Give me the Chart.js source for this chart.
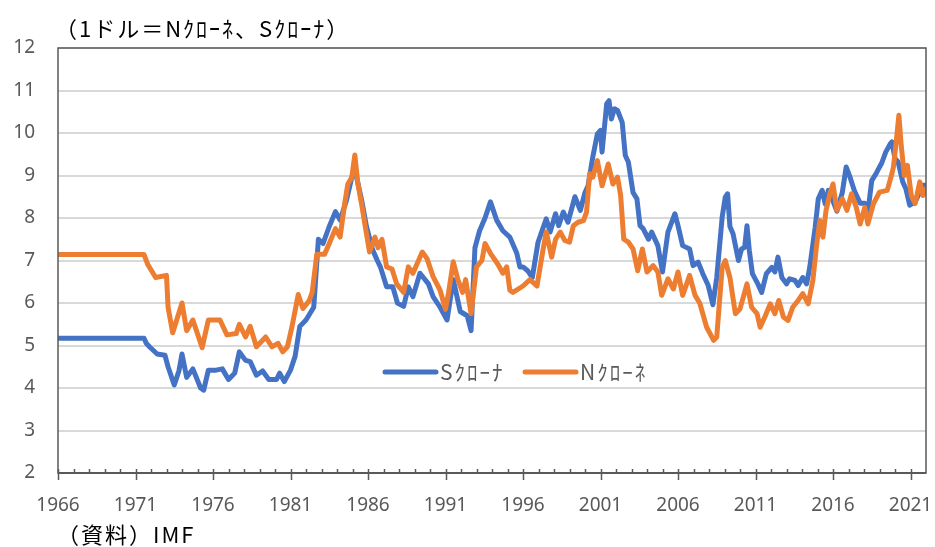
<!DOCTYPE html>
<html lang="ja">
<head>
<meta charset="utf-8">
<script src="https://cdn.jsdelivr.net/npm/chart.js@4.4.1/dist/chart.umd.min.js"></script>
<style>
    html, body { margin: 0; padding: 0; background: #fff; }
</style>
</head>
<body>
<canvas id="myChart" width="935" height="547"></canvas>
<script>
// 系列名
const seriesNames = ['Sｸﾛｰﾅ', 'Nｸﾛｰﾈ'];
const seriesColors = ['#4472C4', '#ED7D31'];

// Sクローナ（1ドルあたり）
const sYears = [
    1966.0, 1971.55, 1971.7, 1971.9, 1972.4, 1972.9, 1973.1, 1973.5, 1973.8, 1974.0,
    1974.3, 1974.7, 1975.2, 1975.4, 1975.7, 1976.2, 1976.6, 1977.0, 1977.4, 1977.7,
    1978.1, 1978.4, 1978.8, 1979.2, 1979.6, 1980.1, 1980.3, 1980.6, 1981.0, 1981.3,
    1981.6, 1982.0, 1982.5, 1982.8, 1983.1, 1983.5, 1983.9, 1984.2, 1984.6, 1984.95,
    1985.15, 1985.6, 1985.9, 1986.3, 1986.6, 1986.8, 1987.2, 1987.6, 1987.9, 1988.3,
    1988.6, 1988.9, 1989.35, 1989.9, 1990.2, 1990.65, 1991.1, 1991.5, 1991.95, 1992.4,
    1992.65, 1992.9, 1993.2, 1993.55, 1993.9, 1994.3, 1994.7, 1995.15, 1995.6, 1995.8,
    1996.0, 1996.3, 1996.6, 1996.97, 1997.2, 1997.5, 1997.75, 1998.1, 1998.3, 1998.6,
    1998.9, 1999.35, 1999.7, 2000.0, 2000.2, 2000.5, 2000.8, 2001.0, 2001.1, 2001.4,
    2001.55, 2001.7, 2001.9, 2002.1, 2002.4, 2002.6, 2002.8, 2003.1, 2003.35, 2003.55,
    2003.75, 2004.1, 2004.3, 2004.7, 2005.0, 2005.35, 2005.8, 2006.0, 2006.3, 2006.75,
    2006.97, 2007.3, 2007.6, 2007.95, 2008.25, 2008.5, 2008.85, 2009.05, 2009.2, 2009.35,
    2009.55, 2009.9, 2010.1, 2010.3, 2010.45, 2010.6, 2010.8, 2011.15, 2011.4, 2011.7,
    2012.05, 2012.25, 2012.45, 2012.7, 2013.0, 2013.2, 2013.55, 2013.75, 2014.05, 2014.3,
    2014.5, 2014.85, 2015.05, 2015.3, 2015.5, 2015.7, 2016.0, 2016.25, 2016.6, 2016.85,
    2017.1, 2017.4, 2017.75, 2018.05, 2018.25, 2018.5, 2018.8, 2019.15, 2019.4, 2019.7,
    2019.8, 2020.0, 2020.2, 2020.5, 2020.7, 2020.95, 2021.3, 2021.6, 2021.8, 2022.0
];
const sValues = [
    5.17, 5.17, 5.05, 4.97, 4.80, 4.77, 4.50, 4.07, 4.40, 4.80,
    4.25, 4.45, 4.00, 3.95, 4.42, 4.42, 4.45, 4.20, 4.35, 4.85,
    4.65, 4.62, 4.30, 4.40, 4.20, 4.20, 4.35, 4.15, 4.42, 4.75,
    5.45, 5.60, 5.90, 7.50, 7.40, 7.80, 8.15, 7.95, 8.40, 8.95,
    9.15, 8.40, 7.80, 7.25, 7.00, 6.85, 6.38, 6.38, 6.00, 5.92,
    6.38, 6.15, 6.70, 6.45, 6.15, 5.90, 5.60, 6.55, 5.80, 5.70,
    5.35, 7.30, 7.70, 8.00, 8.38, 7.95, 7.70, 7.55, 7.17, 6.85,
    6.85, 6.76, 6.60, 7.43, 7.67, 7.98, 7.67, 8.10, 7.82, 8.14,
    7.90, 8.50, 8.18, 8.60, 8.76, 9.43, 9.98, 10.06, 9.55, 10.69,
    10.76, 10.33, 10.57, 10.53, 10.25, 9.47, 9.31, 8.60, 8.45, 7.82,
    7.75, 7.50, 7.67, 7.35, 6.73, 7.67, 8.10, 7.82, 7.35, 7.27,
    6.88, 6.96, 6.69, 6.41, 5.96, 6.60, 8.02, 8.49, 8.57, 7.80,
    7.63, 7.00, 7.27, 7.31, 7.82, 7.24, 6.69, 6.45, 6.25, 6.69,
    6.84, 6.73, 7.08, 6.60, 6.45, 6.57, 6.53, 6.41, 6.60, 6.45,
    6.84, 7.78, 8.45, 8.65, 8.33, 8.65, 8.40, 8.16, 8.60, 9.20,
    8.96, 8.62, 8.35, 8.35, 8.14, 8.88, 9.06, 9.30, 9.55, 9.75,
    9.79, 9.40, 9.32, 8.85, 8.69, 8.30, 8.38, 8.61, 8.77, 8.77
];

// Nクローネ（1ドルあたり）
const nYears = [
    1966.0, 1971.55, 1971.8, 1972.3, 1973.0, 1973.1, 1973.4, 1974.0, 1974.3, 1974.7,
    1975.3, 1975.7, 1976.45, 1976.9, 1977.5, 1977.7, 1978.1, 1978.4, 1978.8, 1979.4,
    1979.8, 1980.2, 1980.5, 1980.8, 1981.1, 1981.5, 1981.8, 1982.2, 1982.4, 1982.7,
    1983.2, 1983.5, 1983.9, 1984.2, 1984.5, 1984.7, 1984.95, 1985.15, 1985.35, 1985.6,
    1985.8, 1986.1, 1986.45, 1986.65, 1986.9, 1987.2, 1987.55, 1987.85, 1988.3, 1988.6,
    1988.9, 1989.5, 1989.8, 1990.2, 1990.65, 1991.0, 1991.2, 1991.5, 1991.8, 1992.1,
    1992.3, 1992.65, 1993.0, 1993.35, 1993.55, 1993.9, 1994.4, 1994.7, 1994.95, 1995.15,
    1995.35, 1996.0, 1996.45, 1996.9, 1997.3, 1997.5, 1997.85, 1998.1, 1998.4, 1998.7,
    1999.0, 1999.25, 1999.55, 1999.9, 2000.1, 2000.3, 2000.5, 2000.8, 2001.1, 2001.5,
    2001.8, 2002.1, 2002.3, 2002.5, 2002.8, 2003.1, 2003.4, 2003.7, 2004.0, 2004.4,
    2004.7, 2004.95, 2005.35, 2005.7, 2006.0, 2006.3, 2006.75, 2007.1, 2007.4, 2007.85,
    2008.3, 2008.5, 2008.85, 2009.05, 2009.35, 2009.7, 2010.0, 2010.45, 2010.75, 2011.1,
    2011.3, 2011.6, 2011.95, 2012.25, 2012.5, 2012.8, 2013.1, 2013.4, 2013.75, 2014.05,
    2014.4, 2014.7, 2014.95, 2015.15, 2015.35, 2015.55, 2015.8, 2016.0, 2016.25, 2016.6,
    2016.9, 2017.2, 2017.5, 2017.75, 2018.05, 2018.25, 2018.6, 2019.0, 2019.5, 2019.8,
    2019.9, 2020.1, 2020.25, 2020.4, 2020.6, 2020.8, 2021.05, 2021.3, 2021.6, 2021.8,
    2022.0
];
const nValues = [
    7.14, 7.14, 6.90, 6.60, 6.65, 5.90, 5.30, 6.00, 5.35, 5.60,
    4.95, 5.60, 5.60, 5.25, 5.28, 5.50, 5.20, 5.45, 4.97, 5.20,
    4.97, 5.05, 4.85, 4.97, 5.45, 6.20, 5.87, 6.05, 6.25, 7.15,
    7.15, 7.40, 7.75, 7.55, 8.35, 8.80, 8.95, 9.48, 8.80, 8.30,
    7.85, 7.20, 7.55, 7.30, 7.50, 6.85, 6.80, 6.45, 6.25, 6.85,
    6.70, 7.20, 7.05, 6.62, 6.30, 5.85, 6.25, 6.97, 6.55, 6.25,
    6.55, 5.75, 6.85, 7.00, 7.40, 7.17, 6.90, 6.70, 6.85, 6.30,
    6.25, 6.40, 6.55, 6.40, 7.27, 7.67, 7.08, 7.50, 7.67, 7.47,
    7.43, 7.82, 7.90, 7.94, 8.14, 9.04, 8.96, 9.35, 8.76, 9.27,
    8.80, 8.96, 8.53, 7.50, 7.43, 7.27, 6.76, 7.27, 6.73, 6.88,
    6.73, 6.18, 6.57, 6.33, 6.73, 6.18, 6.65, 6.18, 6.00, 5.43,
    5.12, 5.20, 6.84, 7.00, 6.60, 5.75, 5.86, 6.45, 5.90, 5.75,
    5.43, 5.67, 5.98, 5.75, 6.06, 5.67, 5.59, 5.90, 6.06, 6.22,
    5.98, 6.53, 7.39, 7.94, 7.55, 8.18, 8.57, 8.80, 8.18, 8.45,
    8.18, 8.57, 8.25, 7.86, 8.25, 7.86, 8.33, 8.61, 8.65, 9.04,
    9.20, 9.87, 10.42, 9.71, 9.00, 9.24, 8.53, 8.34, 8.85, 8.53,
    8.69
];

// 軸
const yTicks = [2, 3, 4, 5, 6, 7, 8, 9, 10, 11, 12];
const xTicks = [1966, 1971, 1976, 1981, 1986, 1991, 1996, 2001, 2006, 2011, 2016, 2021];
const xFirstYear = 1966;
const xLastYear = 2022;

const titleText = '（1ドル＝Nｸﾛｰﾈ、Sｸﾛｰﾅ）';
const sourceText = '（資料）IMF';

const toPoints = (xs, ys) => xs.map((x, i) => ({x: x, y: ys[i]}));

const JP_FONT = '"Noto Sans CJK JP", "Noto Sans", sans-serif';
const NUM_FONT = '"Noto Sans", "Liberation Sans", sans-serif';

// 枠・目盛・凡例・注記
const decorPlugin = {
    id: 'decor',
    afterDraw(chart) {
        const ctx = chart.ctx;
        const a = chart.chartArea;
        const x = chart.scales.x;
        ctx.save();

        ctx.strokeStyle = '#595959';
        ctx.lineWidth = 1.5;
        ctx.strokeRect(a.left, a.top, a.right - a.left, a.bottom - a.top);
        ctx.lineWidth = 2;
        ctx.beginPath();
        ctx.moveTo(a.left, a.bottom);
        ctx.lineTo(a.right, a.bottom);
        ctx.stroke();

        ctx.lineWidth = 1.5;
        for (let yr = xFirstYear; yr < xLastYear; yr++) {
            const px = Math.round(x.getPixelForValue(yr)) + 0.5;
            const major = xTicks.includes(yr);
            ctx.beginPath();
            ctx.moveTo(px, a.bottom - 4);
            ctx.lineTo(px, major ? a.bottom + 7 : a.bottom);
            ctx.stroke();
        }

        // 凡例（グラフ内）
        const legendY = a.top + 324;
        ctx.lineCap = 'round';
        ctx.textBaseline = 'middle';
        ctx.font = '21px ' + JP_FONT;
        ctx.letterSpacing = '2px';
        chart.data.datasets.forEach((ds, i) => {
            const lx = a.left + [325, 465][i];
            ctx.strokeStyle = ds.borderColor;
            ctx.lineWidth = 5;
            ctx.beginPath();
            ctx.moveTo(lx + 2, legendY);
            ctx.lineTo(lx + 53, legendY);
            ctx.stroke();
            ctx.fillStyle = '#595959';
            ctx.fillText(ds.label, lx + 57, legendY);
        });

        // タイトル・出所
        ctx.fillStyle = '#000';
        ctx.font = '22px ' + JP_FONT;
        ctx.letterSpacing = '2px';
        ctx.textBaseline = 'middle';
        ctx.fillText(titleText, 55, 29);
        ctx.fillText(sourceText, 57, 535);
        ctx.restore();
    }
};

new Chart(document.getElementById('myChart'), {
    type: 'line',
    data: {
        datasets: [
            {
                label: seriesNames[0],
                data: toPoints(sYears, sValues),
                borderColor: seriesColors[0],
                order: 2
            },
            {
                label: seriesNames[1],
                data: toPoints(nYears, nValues),
                borderColor: seriesColors[1],
                order: 1
            }
        ]
    },
    options: {
        responsive: false,
        animation: false,
        devicePixelRatio: 1,
        layout: {padding: {top: 48, right: 9, bottom: 0, left: 0}},
        elements: {
            line: {borderWidth: 5, tension: 0, borderJoinStyle: 'round', borderCapStyle: 'round'},
            point: {radius: 0, hoverRadius: 0}
        },
        plugins: {
            legend: {display: false},
            title: {display: false},
            tooltip: {enabled: false}
        },
        scales: {
            x: {
                type: 'linear',
                min: xFirstYear,
                max: xLastYear,
                afterFit: (s) => {
                    s.height = 74;
                    s.paddingLeft = 0;
                    s.paddingRight = 0;
                },
                afterBuildTicks: (s) => { s.ticks = xTicks.map(v => ({value: v})); },
                grid: {display: false},
                border: {display: false},
                ticks: {
                    autoSkip: false,
                    maxRotation: 0,
                    padding: 13,
                    color: '#595959',
                    font: {family: NUM_FONT, size: 19},
                    callback: (v) => String(v)
                }
            },
            y: {
                min: yTicks[0],
                max: yTicks[yTicks.length - 1],
                afterFit: (s) => { s.width = 58; },
                afterBuildTicks: (s) => { s.ticks = yTicks.map(v => ({value: v})); },
                grid: {color: '#D9D9D9', lineWidth: 2, drawTicks: false},
                border: {display: false},
                ticks: {
                    padding: 23,
                    color: '#595959',
                    font: {family: NUM_FONT, size: 19}
                }
            }
        }
    },
    plugins: [decorPlugin]
});
</script>
</body>
</html>
